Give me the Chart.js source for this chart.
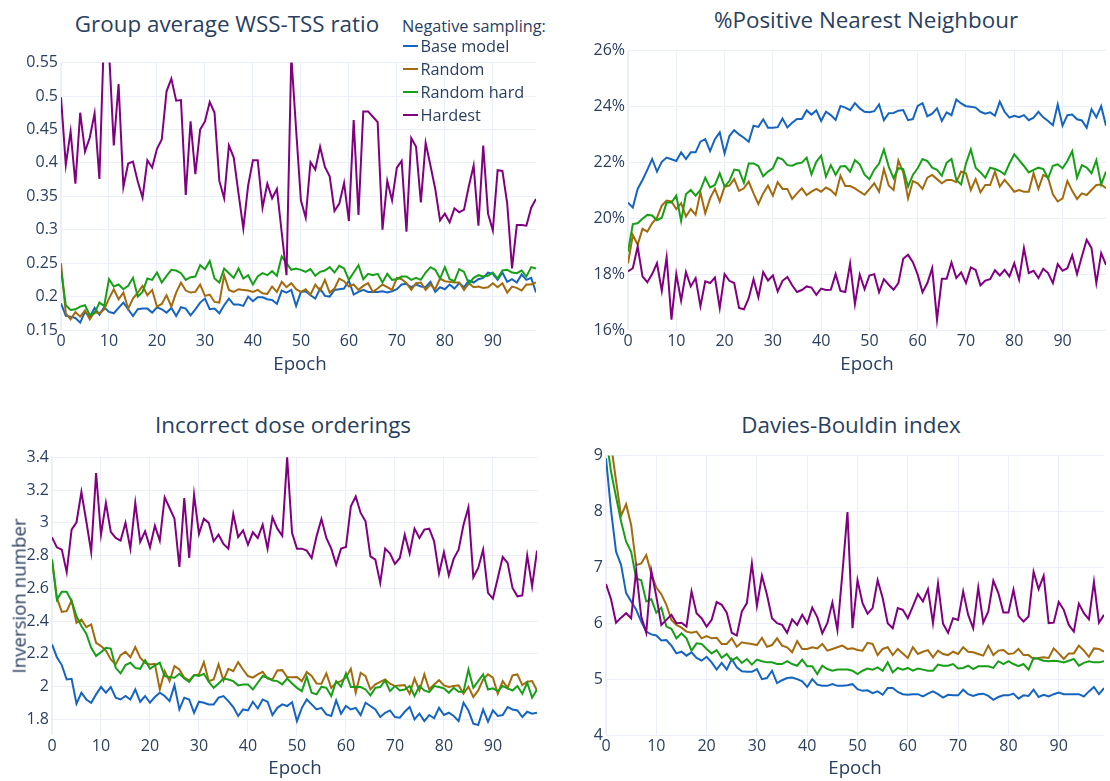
<!DOCTYPE html>
<html>
<head>
<meta charset="utf-8">
<title>Negative sampling training curves</title>
<script src="https://cdn.jsdelivr.net/npm/chart.js@4.4.1/dist/chart.umd.min.js"></script>
<style>
  html, body { margin: 0; padding: 0; background: #ffffff; }
  body { width: 1110px; height: 781px; position: relative; overflow: hidden;
         font-family: "Open Sans", "DejaVu Sans", sans-serif; color: #2a3f5f; }
  canvas { position: absolute; }
  .txt { position: absolute; white-space: nowrap; line-height: 1; }
  .legend-row { position: absolute; height: 20px; }
  .legend-swatch { position: absolute; left: 0; width: 15px; height: 2px; }
  .legend-text { position: absolute; left: 17.5px; white-space: nowrap; line-height: 1; font-size: 16.3px; transform: translateY(-50%); }
</style>
</head>
<body>
<script>
// ---- categories ----
const epochs = Array.from({ length: 100 }, (_, i) => i);
const xTicks = [0, 10, 20, 30, 40, 50, 60, 70, 80, 90];

// ---- series names and colours ----
const seriesNames = ["Base model", "Random", "Random hard", "Hardest"];
const seriesColors = ["#1565c0", "#a36a0e", "#17a017", "#800080"];

// ---- Group average WSS-TSS ratio ----
const wssBase = [0.190,0.171,0.170,0.168,0.161,0.177,0.170,0.183,0.173,0.184,0.177,0.175,0.183,0.191,0.181,0.171,0.181,0.182,0.182,0.176,0.184,0.181,0.176,0.183,0.171,0.184,0.182,0.172,0.181,0.191,0.197,0.181,0.182,0.175,0.187,0.197,0.188,0.188,0.186,0.200,0.193,0.199,0.199,0.196,0.195,0.189,0.209,0.206,0.210,0.186,
  0.207,0.208,0.202,0.197,0.212,0.201,0.200,0.210,0.211,0.212,0.224,0.203,0.207,0.210,0.207,0.207,0.207,0.208,0.206,0.208,0.211,0.218,0.219,0.214,0.218,0.215,0.214,0.222,0.207,0.214,0.211,0.218,0.212,0.220,0.214,0.224,0.221,0.226,0.228,0.236,0.234,0.225,0.236,0.222,0.226,0.221,0.233,0.225,0.228,0.206];
const wssRandom = [0.250,0.175,0.166,0.177,0.170,0.179,0.166,0.177,0.175,0.181,0.197,0.211,0.196,0.206,0.182,0.197,0.206,0.216,0.202,0.210,0.185,0.189,0.202,0.185,0.206,0.221,0.209,0.206,0.207,0.218,0.201,0.203,0.192,0.191,0.232,0.210,0.207,0.211,0.210,0.209,0.207,0.210,0.205,0.204,0.215,0.207,0.222,0.214,0.220,0.211,
  0.207,0.211,0.203,0.218,0.209,0.225,0.206,0.212,0.227,0.223,0.215,0.218,0.210,0.216,0.220,0.207,0.212,0.218,0.214,0.210,0.228,0.226,0.220,0.210,0.220,0.221,0.210,0.218,0.211,0.227,0.223,0.222,0.221,0.221,0.210,0.220,0.214,0.215,0.213,0.214,0.220,0.214,0.220,0.206,0.215,0.213,0.209,0.218,0.218,0.221];
const wssRandomHard = [0.240,0.187,0.180,0.181,0.185,0.187,0.172,0.175,0.191,0.186,0.226,0.215,0.218,0.211,0.216,0.228,0.200,0.207,0.227,0.225,0.236,0.221,0.231,0.240,0.239,0.235,0.225,0.229,0.230,0.247,0.241,0.253,0.227,0.221,0.242,0.235,0.228,0.242,0.227,0.232,0.218,0.230,0.235,0.232,0.238,0.231,0.260,0.250,0.240,0.242,
  0.240,0.237,0.241,0.231,0.237,0.239,0.244,0.236,0.246,0.242,0.225,0.236,0.247,0.226,0.234,0.232,0.234,0.221,0.234,0.225,0.226,0.230,0.230,0.225,0.228,0.225,0.236,0.244,0.240,0.227,0.244,0.226,0.223,0.241,0.237,0.219,0.228,0.232,0.230,0.231,0.236,0.227,0.239,0.240,0.236,0.235,0.239,0.230,0.244,0.242];
const wssHardest = [0.498,0.397,0.447,0.369,0.475,0.417,0.438,0.474,0.376,0.600,0.570,0.426,0.518,0.364,0.399,0.402,0.372,0.348,0.404,0.393,0.421,0.435,0.507,0.526,0.493,0.494,0.352,0.462,0.383,0.450,0.462,0.491,0.475,0.373,0.347,0.426,0.408,0.354,0.302,0.366,0.404,0.404,0.333,0.369,0.347,0.361,0.296,0.232,0.560,0.450,
  0.344,0.318,0.401,0.390,0.424,0.394,0.380,0.328,0.339,0.370,0.313,0.464,0.322,0.477,0.477,0.469,0.461,0.300,0.373,0.344,0.393,0.403,0.297,0.437,0.424,0.341,0.430,0.396,0.361,0.314,0.324,0.311,0.332,0.326,0.330,0.365,0.396,0.306,0.426,0.324,0.299,0.389,0.388,0.339,0.242,0.307,0.307,0.306,0.333,0.346];
const wssTicks = [0.15, 0.2, 0.25, 0.3, 0.35, 0.4, 0.45, 0.5, 0.55];

// ---- %Positive Nearest Neighbour (percent) ----
const nnBase = [20.56,20.38,21.05,21.37,21.73,22.12,21.67,22.02,22.17,22.11,22.05,22.36,22.12,22.36,22.36,22.74,22.83,22.40,22.83,23.07,22.32,22.94,23.15,23.00,22.88,22.74,23.31,23.27,23.54,23.24,23.24,23.26,23.57,23.25,23.42,23.55,23.55,23.86,23.71,23.86,23.48,23.81,23.69,23.52,24.02,23.96,23.87,24.12,23.93,23.81,
  23.79,23.83,24.07,23.51,23.76,23.77,23.85,23.87,23.51,23.55,24.02,24.12,23.65,23.74,23.93,23.48,23.79,23.69,24.25,24.11,24.01,23.99,23.96,23.81,23.74,23.79,23.67,24.17,23.81,23.60,23.67,23.62,23.69,23.51,23.60,23.81,23.61,23.48,23.33,24.07,23.31,23.69,23.71,23.54,23.50,23.24,23.90,23.61,24.01,23.31];
const nnRandom = [18.39,19.40,19.05,19.62,19.52,19.82,20.02,20.45,20.63,20.60,20.33,20.54,20.06,20.33,20.12,20.93,20.18,20.71,21.05,20.60,21.13,21.17,21.40,20.98,21.07,21.31,20.89,20.51,20.89,21.17,20.81,21.29,21.05,21.05,20.69,20.89,21.07,20.83,20.95,21.05,20.95,21.10,21.01,20.83,21.52,21.15,21.15,21.07,20.95,20.84,
  21.04,21.25,20.95,21.76,21.17,21.01,22.07,21.64,20.71,21.33,21.25,21.05,21.45,21.55,21.40,21.25,21.37,21.37,21.29,21.67,21.61,21.01,21.40,20.93,21.19,21.19,21.67,21.13,21.37,21.17,20.95,21.01,20.95,20.95,21.61,21.05,21.55,21.45,20.86,20.60,20.71,21.33,20.98,20.69,20.89,20.83,21.01,21.19,21.21,21.07];
const nnRandomHard = [18.81,19.79,19.82,19.98,20.12,20.10,19.93,20.02,20.56,20.56,20.81,19.90,20.86,21.01,20.81,21.01,21.45,21.10,21.19,21.61,21.13,21.33,21.74,21.71,21.27,21.96,21.96,21.87,21.50,21.67,21.79,22.17,22.11,21.90,21.88,21.96,21.99,22.17,21.57,22.02,22.24,21.49,21.90,21.55,21.85,21.87,21.67,22.08,21.93,21.56,
  21.40,21.73,21.96,22.46,21.85,21.43,21.79,21.76,21.13,21.55,21.79,22.12,22.05,21.81,21.73,21.52,21.99,22.12,21.37,21.21,21.96,22.46,21.81,21.64,21.45,21.81,21.76,21.69,21.57,21.96,22.29,22.08,21.87,21.64,21.73,21.81,21.76,21.43,21.88,21.93,21.79,22.05,22.40,21.45,21.90,21.81,21.61,22.08,21.21,21.67];
const nnHardest = [18.10,18.21,18.99,17.92,17.71,18.00,18.39,17.40,18.60,16.37,18.00,17.05,18.07,17.56,17.86,16.85,17.74,17.68,17.88,16.79,18.00,17.76,17.68,16.79,16.74,17.14,17.82,17.17,18.07,17.77,17.95,17.38,17.76,17.90,17.60,17.36,17.43,17.56,17.52,17.26,17.48,17.43,17.44,18.00,17.40,17.36,18.38,16.93,17.98,17.46,
  17.95,18.00,17.35,17.82,17.62,17.44,17.68,18.55,18.69,18.43,17.98,17.35,17.68,18.21,16.37,17.83,17.83,18.42,17.86,18.06,17.68,18.24,18.15,17.60,17.77,17.82,18.14,17.95,18.15,17.92,18.39,17.80,18.93,18.04,18.12,17.86,18.19,18.04,17.68,18.36,18.12,18.21,18.67,18.00,18.63,19.23,18.93,17.68,18.75,18.33];
const nnTicks = [16, 18, 20, 22, 24, 26];

// ---- Incorrect dose orderings (inversion number) ----
const invBase = [2.258,2.180,2.132,2.044,2.048,1.896,1.963,1.922,1.902,1.953,1.998,1.963,1.998,1.933,1.922,1.943,1.922,1.983,1.908,1.943,1.902,1.937,1.963,1.943,1.912,2.008,1.861,1.933,1.922,1.841,1.908,1.902,1.892,1.892,1.933,1.943,1.912,1.876,1.821,1.861,1.855,1.908,1.867,1.922,1.908,1.827,1.871,1.892,1.882,1.905,
  1.790,1.871,1.922,1.892,1.861,1.871,1.831,1.821,1.916,1.835,1.882,1.861,1.871,1.827,1.902,1.882,1.861,1.815,1.841,1.855,1.815,1.811,1.847,1.876,1.800,1.835,1.790,1.827,1.807,1.871,1.827,1.841,1.821,1.790,1.902,1.855,1.774,1.766,1.861,1.786,1.855,1.821,1.827,1.876,1.861,1.855,1.815,1.847,1.835,1.841];
const invRandom = [2.776,2.542,2.457,2.461,2.526,2.390,2.410,2.363,2.380,2.268,2.248,2.221,2.166,2.136,2.193,2.213,2.180,2.242,2.177,2.146,2.136,2.140,1.983,2.095,2.034,2.126,2.105,2.055,2.038,2.069,2.075,2.150,2.034,2.044,2.136,2.038,2.109,2.095,2.150,2.105,2.065,2.055,2.075,2.091,2.050,2.044,2.099,2.101,2.059,2.057,
  2.059,2.034,2.089,2.065,2.020,2.018,2.081,1.993,2.024,2.034,2.055,2.109,1.963,2.085,2.065,1.983,2.014,2.030,2.044,2.018,2.004,2.008,2.010,1.957,2.050,1.977,2.075,1.983,2.014,2.040,2.008,1.998,2.004,2.008,1.957,2.000,1.937,1.977,2.044,2.075,2.055,1.957,2.034,1.993,2.069,2.075,2.010,2.030,2.034,1.977];
const invRandomHard = [2.776,2.532,2.579,2.579,2.522,2.430,2.370,2.323,2.237,2.187,2.211,2.237,2.233,2.115,2.081,2.132,2.146,2.115,2.109,2.162,2.109,2.130,2.146,2.065,2.059,2.055,2.079,2.050,2.030,2.071,2.065,2.079,2.030,1.993,2.020,2.050,2.044,2.034,2.008,2.014,2.014,1.983,2.024,2.065,2.055,2.038,2.034,2.014,2.050,2.020,
  1.993,1.973,2.061,1.963,1.953,2.000,1.993,1.943,2.034,2.000,2.081,1.998,2.000,1.998,1.983,1.947,1.993,1.998,2.038,1.973,2.004,1.977,1.983,2.004,1.943,2.004,1.977,1.967,2.004,1.998,1.990,1.963,1.993,1.969,1.969,2.105,1.993,2.034,2.075,1.983,1.990,1.973,2.004,1.990,1.977,2.004,1.957,2.024,1.933,1.983];
const invHardest = [2.912,2.851,2.837,2.699,2.959,3.004,3.189,3.010,2.823,3.304,2.928,3.122,2.945,2.908,2.892,3.000,2.843,3.122,2.884,2.949,2.851,2.983,2.892,3.156,3.091,3.026,2.731,3.152,2.786,3.172,2.933,3.026,3.000,2.888,2.928,2.872,2.843,3.054,2.914,2.955,2.867,2.943,2.908,2.989,2.843,3.034,2.965,2.922,3.400,2.940,
  2.843,2.843,2.831,2.786,2.918,3.024,2.908,2.843,2.746,2.843,2.853,3.101,3.162,3.061,3.010,2.796,2.776,2.634,2.843,2.813,2.750,2.786,2.928,2.813,2.965,2.908,2.959,2.965,2.888,2.691,2.821,2.680,2.782,2.837,2.989,3.095,2.668,2.725,2.837,2.573,2.538,2.664,2.792,2.756,2.603,2.552,2.557,2.802,2.613,2.831];
const invTicks = [1.8, 2, 2.2, 2.4, 2.6, 2.8, 3, 3.2, 3.4];

// ---- Davies-Bouldin index ----
const dbBase = [8.95,8.02,7.28,7.04,6.54,6.39,6.24,6.03,5.85,5.80,5.78,5.69,5.70,5.60,5.46,5.49,5.42,5.48,5.38,5.33,5.40,5.30,5.17,5.29,5.17,5.36,5.21,5.14,5.13,5.13,5.18,5.00,5.02,5.15,4.93,4.98,5.02,5.03,5.00,4.96,4.86,5.00,4.90,4.88,4.88,4.91,4.88,4.88,4.89,4.91,
  4.82,4.79,4.80,4.75,4.78,4.72,4.84,4.84,4.77,4.73,4.72,4.73,4.73,4.69,4.74,4.78,4.73,4.67,4.72,4.71,4.71,4.81,4.73,4.70,4.73,4.74,4.70,4.63,4.68,4.71,4.71,4.74,4.65,4.71,4.70,4.81,4.68,4.72,4.69,4.73,4.76,4.73,4.73,4.73,4.73,4.69,4.78,4.86,4.73,4.84];
const dbRandom = [9.80,9.20,8.55,7.92,8.13,7.76,7.04,7.07,7.22,6.89,6.64,6.52,6.33,6.06,5.97,5.92,5.85,5.83,5.85,5.73,5.77,5.73,5.74,5.63,5.63,5.73,5.58,5.66,5.64,5.63,5.61,5.74,5.58,5.61,5.73,5.60,5.57,5.48,5.68,5.54,5.54,5.57,5.55,5.63,5.51,5.54,5.57,5.60,5.54,5.55,
  5.52,5.51,5.65,5.63,5.43,5.54,5.57,5.43,5.54,5.46,5.38,5.57,5.45,5.49,5.52,5.39,5.51,5.45,5.43,5.49,5.45,5.57,5.49,5.48,5.45,5.42,5.60,5.43,5.51,5.52,5.45,5.46,5.54,5.43,5.43,5.36,5.38,5.39,5.38,5.55,5.46,5.36,5.46,5.46,5.60,5.51,5.40,5.55,5.54,5.49];
const dbRandomHard = [9.35,8.71,8.26,7.82,7.46,7.28,6.80,6.77,6.39,6.43,6.19,6.28,5.94,5.90,5.73,5.82,5.73,5.51,5.64,5.63,5.54,5.46,5.52,5.38,5.45,5.33,5.39,5.29,5.36,5.26,5.35,5.32,5.30,5.30,5.27,5.27,5.32,5.27,5.24,5.35,5.23,5.23,5.09,5.24,5.18,5.15,5.17,5.17,5.17,5.15,
  5.09,5.15,5.19,5.17,5.21,5.15,5.30,5.12,5.20,5.17,5.20,5.15,5.19,5.17,5.15,5.15,5.26,5.24,5.24,5.27,5.19,5.20,5.24,5.18,5.23,5.23,5.23,5.20,5.32,5.27,5.32,5.27,5.23,5.27,5.17,5.38,5.36,5.33,5.32,5.33,5.32,5.30,5.33,5.36,5.24,5.29,5.32,5.30,5.30,5.32];
const dbHardest = [6.70,6.43,6.01,6.10,6.18,6.09,6.95,6.12,5.83,6.94,6.48,5.97,6.06,6.15,6.00,6.01,5.94,6.57,6.18,6.09,5.94,6.06,6.38,6.33,6.19,5.83,5.78,6.21,6.36,7.07,6.31,6.85,6.51,6.09,6.00,5.97,5.83,6.07,5.97,6.15,6.00,6.28,6.11,5.82,6.00,6.37,5.88,6.90,7.99,5.91,
  6.77,6.36,6.17,6.27,6.77,6.45,6.00,5.91,6.27,6.24,6.09,6.30,6.52,6.39,6.61,6.00,6.71,5.99,5.83,6.09,6.06,6.57,6.15,5.91,6.64,6.01,6.21,6.76,6.54,6.19,6.19,6.60,6.13,6.03,6.12,6.92,6.61,6.85,6.00,6.01,6.38,6.24,5.97,5.85,6.35,6.18,6.07,6.74,6.01,6.15];
const dbTicks = [4, 5, 6, 7, 8, 9];

// ---- drawing ----
const FONT = '"Open Sans", "DejaVu Sans", sans-serif';
const TEXT = '#2a3f5f';
const GRID = '#ebf0f8';

function addText(str, x, y, size, opts = {}) {
  const d = document.createElement('div');
  d.className = 'txt';
  d.textContent = str;
  d.style.fontSize = size + 'px';
  d.style.left = x + 'px';
  d.style.top = y + 'px';
  d.style.transform = (opts.rotate ? 'translate(-50%,-50%) rotate(-90deg)' : 'translate(-50%,-50%)');
  document.body.appendChild(d);
}

// area: plot rectangle in page pixels
function panel(area, yMin, yMax, yTicks, yLabel, seriesData) {
  const padL = 70, padR = 10, padT = 12, padB = 32;
  const cv = document.createElement('canvas');
  const w = Math.round(area.right - area.left) + padL + padR;
  const h = Math.round(area.bottom - area.top) + padT + padB;
  cv.width = w; cv.height = h;
  cv.style.left = (area.left - padL) + 'px';
  cv.style.top = (area.top - padT) + 'px';
  cv.style.width = w + 'px'; cv.style.height = h + 'px';
  document.body.appendChild(cv);

  const datasets = seriesData.map((vals, i) => ({
    label: seriesNames[i],
    data: vals,
    borderColor: seriesColors[i],
    backgroundColor: seriesColors[i],
    borderWidth: 2,
    pointRadius: 0,
    tension: 0,
    fill: false,
    clip: 0,
    order: seriesData.length - i
  }));

  return new Chart(cv.getContext('2d'), {
    type: 'line',
    data: { labels: epochs, datasets },
    options: {
      responsive: false,
      animation: false,
      devicePixelRatio: 1,
      layout: { padding: { left: 0, right: padR, top: padT, bottom: 0 } },
      plugins: { legend: { display: false }, tooltip: { enabled: false }, title: { display: false } },
      scales: {
        x: {
          type: 'linear', min: 0, max: 99,
          afterFit: s => { s.height = padB; },
          afterBuildTicks: s => { s.ticks = xTicks.map(v => ({ value: v })); },
          ticks: { autoSkip: false, maxRotation: 0, color: TEXT, font: { family: FONT, size: 16 }, padding: 2 },
          grid: { color: GRID, lineWidth: c => (c.tick && c.tick.value === 0 ? 2 : 1), drawTicks: false },
          border: { display: false }
        },
        y: {
          type: 'linear', min: yMin, max: yMax,
          afterFit: s => { s.width = padL; },
          afterBuildTicks: s => { s.ticks = yTicks.map(v => ({ value: v })); },
          ticks: { color: TEXT, font: { family: FONT, size: 16 }, padding: 3, callback: yLabel },
          grid: { color: GRID, lineWidth: 1, drawTicks: false },
          border: { display: false }
        }
      }
    }
  });
}

const plain = v => String(v);
const pct = v => v + '%';

panel({ left: 61.3, right: 536.5, top: 62, bottom: 330 }, 0.15, 0.55, wssTicks, plain,
      [wssBase, wssRandom, wssRandomHard, wssHardest]);
panel({ left: 628.3, right: 1106.5, top: 50.3, bottom: 330.3 }, 16, 26, nnTicks, pct,
      [nnBase, nnRandom, nnRandomHard, nnHardest]);
panel({ left: 52.3, right: 537.4, top: 455.5, bottom: 734 }, 1.705, 3.405, invTicks, plain,
      [invBase, invRandom, invRandomHard, invHardest]);
panel({ left: 605.7, right: 1103.7, top: 455.3, bottom: 735.3 }, 4, 9, dbTicks, plain,
      [dbBase, dbRandom, dbRandomHard, dbHardest]);

// subplot titles
addText('Group average WSS-TSS ratio', 227, 24, 22.4);
addText('%Positive Nearest Neighbour', 866, 19.5, 22.4);
addText('Incorrect dose orderings', 283, 424.5, 22.4);
addText('Davies-Bouldin index', 851, 424.5, 22.4);

// axis titles
addText('Epoch', 300, 363, 18.7);
addText('Epoch', 867, 363, 18.7);
addText('Epoch', 295, 767, 18.7);
addText('Epoch', 855, 767, 18.7);
addText('Inversion number', 19, 596, 18.7, { rotate: true });

// legend
(function () {
  const t = document.createElement('div');
  t.className = 'txt';
  t.textContent = 'Negative sampling:';
  t.style.fontSize = '16.3px';
  t.style.left = '402px';
  t.style.top = '26px';
  t.style.transform = 'translateY(-50%)';
  document.body.appendChild(t);
  const rowsY = [45.5, 69, 92, 115];
  seriesNames.forEach((name, i) => {
    const row = document.createElement('div');
    row.className = 'legend-row';
    row.style.left = '403px';
    row.style.top = rowsY[i] + 'px';
    const sw = document.createElement('div');
    sw.className = 'legend-swatch';
    sw.style.background = seriesColors[i];
    sw.style.top = '-1px';
    const tx = document.createElement('div');
    tx.className = 'legend-text';
    tx.textContent = name;
    tx.style.top = '0px';
    row.appendChild(sw);
    row.appendChild(tx);
    document.body.appendChild(row);
  });
})();
</script>
</body>
</html>
